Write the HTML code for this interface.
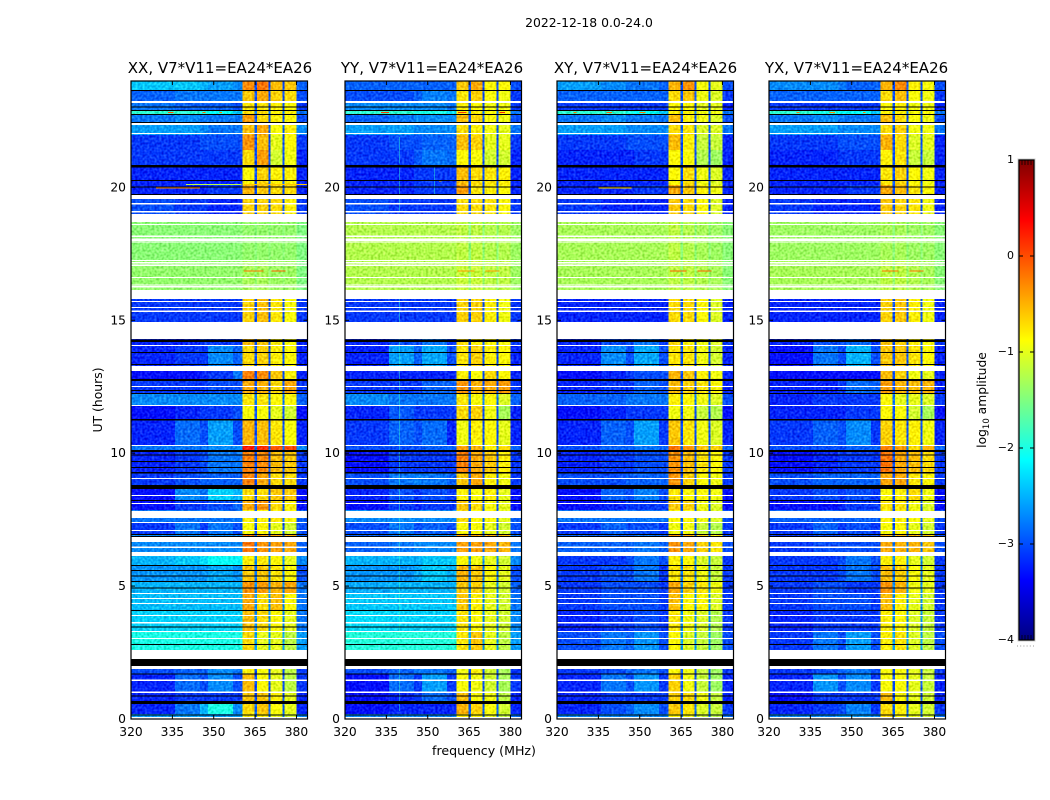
<!DOCTYPE html>
<html lang="en">
<head>
<meta charset="utf-8">
<title>2022-12-18 amplitude spectrograms</title>
<style>
html,body{margin:0;padding:0;background:#fff;width:1050px;height:800px;overflow:hidden}
svg{display:block}
text{font-family:"DejaVu Sans","Liberation Sans",sans-serif;fill:#000}
</style>
</head>
<body>
<svg id="chart" xmlns="http://www.w3.org/2000/svg" width="1050" height="800" viewBox="0 0 1050 800">
  <defs>
    <filter id="grain" x="0" y="0" width="100%" height="100%" color-interpolation-filters="sRGB">
      <feTurbulence type="fractalNoise" baseFrequency="0.42" numOctaves="1" seed="4" result="n"/>
      <feColorMatrix in="n" type="matrix" values="1 0 0 0 0 1 0 0 0 0 1 0 0 0 0 0 0 0 0 1" result="g"/>
      <feComposite in="SourceGraphic" in2="g" operator="arithmetic" k1="0" k2="1" k3="0.55" k4="-0.275"/>
    </filter>
    <linearGradient id="jet-gradient" x1="0" y1="1" x2="0" y2="0"></linearGradient>
  </defs>
  <text x="589" y="27" font-size="12.4" text-anchor="middle">2022-12-18 0.0-24.0</text>
  <text x="484" y="755" font-size="12.6" text-anchor="middle">frequency (MHz)</text>
  <text x="0" y="0" font-size="12.4" text-anchor="middle" transform="translate(102 400) rotate(-90)">UT (hours)</text>
  <text x="0" y="0" font-size="12.3" text-anchor="middle" transform="translate(986 400) rotate(-90)">log<tspan font-size="8.5" dy="3">10</tspan><tspan dy="-3"> amplitude</tspan></text>
</svg>
<script>
const panelTitles = ["XX, V7*V11=EA24*EA26","YY, V7*V11=EA24*EA26","XY, V7*V11=EA24*EA26","YX, V7*V11=EA24*EA26"];
const panelNames = ["xx","yy","xy","yx"];
const xTicks = [320,335,350,365,380];
const yTicks = [0,5,10,15,20];
const cbarTicks = [-4,-3,-2,-1,0,1];
const freqEdges = [320,336,345,348,357,360.4,365,370,375,380,384];
const gapFreqs = [365.2,370.2,375.3];
const utEdges = [24,23.63,23.17,22.91,22.76,22.46,21.97,21.41,20.84,20.09,19.71,19.0,17.27,16.14,14.94,14.03,13.28,12.79,12.26,11.78,11.25,10.31,10.08,9.25,8.65,8.24,7.86,7.41,6.96,6.28,5.79,5.19,4.74,4.10,3.31,2.60,1.69,1.02,0.56,0.19,0];
const gapLevels = [-3,-3,-3,-2.8,-3,-2.9,-3,-3,-3,-3,-3,-1.45,-1.4,-3,-3,-3,-3,-3,-2.8,-3,-3,-2.8,-3,-3,-3,-3,-2.9,-3,-2.8,-2.7,-2.8,-2.7,-2.7,-2.7,-2.6,-3,-3,-3,-2.9,-2.8];

const xxGrid = [
[-2.4,-2.4,-2.5,-2.6,-2.7,-.3,-.2,-.55,-.6,-2.9],[-2.9,-2.8,-2.8,-2.8,-2.8,-.6,-.45,-.65,-.7,-3],[-2.8,-2.9,-2.9,-2.9,-3,-.75,-.75,-.8,-.85,-3.1],[-1.9,-1.9,-2,-2.1,-2.4,-.7,-.7,-.8,-.8,-2.8],[-2.8,-2.7,-2.8,-2.8,-2.8,-.4,-.7,-.8,-.85,-3],
[-2.6,-2.6,-2.7,-2.8,-2.8,-.55,-.45,-.9,-.8,-2.7],[-3.1,-3.1,-3,-3,-3,-.35,-.55,-1,-.85,-3.1],[-3.1,-3.1,-3.1,-3.1,-3.1,-.7,-.4,-1.1,-.95,-3.2],[-3.2,-3.2,-3.2,-3.2,-3.2,-.85,-.65,-.8,-.8,-3.2],[-3.2,-3.2,-3.2,-3.1,-3.1,-.5,-.6,-.7,-.7,-3.2],
[-3,-3.1,-3.1,-3.2,-3.2,-.65,-.65,-.7,-.8,-3.1],[-1.45,-1.45,-1.45,-1.45,-1.45,-1.4,-1.4,-1.4,-1.4,-1.5],[-1.4,-1.4,-1.4,-1.4,-1.4,-1.3,-1.3,-1.35,-1.35,-1.5],[-3.1,-3.1,-3.1,-3.1,-3.1,-.65,-.55,-.75,-.9,-3.1],[-3.2,-3.2,-3.1,-3.1,-3.1,-.55,-.6,-.8,-.9,-3.2],
[-3.2,-3.1,-3.1,-2.7,-2.9,-.7,-.65,-.8,-.85,-3.2],[-3.3,-3.3,-3.2,-3.1,-2.8,-.25,-.3,-.6,-.8,-3.2],[-3.1,-3.1,-3.1,-3,-3,-.45,-.5,-.7,-.45,-3.1],[-2.7,-2.7,-2.7,-2.7,-2.7,-.75,-.75,-.85,-.85,-2.9],[-3.3,-3.2,-3.1,-3.1,-3,-.9,-.9,-1,-1.1,-3.3],
[-3.2,-2.85,-3,-2.6,-3,-.5,-.55,-.75,-.9,-3.2],[-2.8,-2.8,-2.8,-2.7,-2.7,.25,.15,-.05,0,-2.7],[-3.2,-3.1,-3,-2.8,-2.8,-.25,-.3,-.55,-.6,-3.1],[-3.1,-3,-2.9,-2.9,-2.9,-.25,-.45,-.7,-.7,-3.1],[-3.3,-2.7,-2.8,-2.35,-2.5,-.7,-.7,-.6,-.6,-3.3],
[-3.3,-3.1,-3.1,-3,-2.9,-.45,-.35,-.7,-.8,-3.3],[-2.8,-2.8,-2.8,-2.8,-2.8,-.8,-.8,-.75,-.85,-2.9],[-3.1,-2.8,-3.1,-2.8,-3,-.9,-.85,-1,-1.1,-3],[-2.7,-2.7,-2.7,-2.7,-2.7,-.2,-.35,-.4,-.45,-2.9],[-2.5,-2.4,-2.3,-2.1,-2.15,-.8,-.75,-.85,-1,-2.7],
[-2.65,-2.65,-2.65,-2.55,-2.65,-.6,-.6,-.75,-.85,-3],[-2.5,-2.5,-2.5,-2.5,-2.5,-.35,-.4,-.5,-.45,-2.8],[-2.45,-2.45,-2.45,-2.45,-2.45,-.45,-.7,-.55,-.85,-2.8],[-2.35,-2.35,-2.35,-2.35,-2.35,-.55,-.7,-.85,-1,-2.8],[-2,-2,-2,-2,-2,-.7,-1,-1,-1.2,-2.6],
[-3,-2.9,-2.9,-2.7,-2.8,-.8,-.9,-1,-1.2,-3.1],[-3.2,-2.85,-3,-2.7,-3,-.55,-.85,-1,-1.2,-3.1],[-3.2,-3.1,-3.1,-3.1,-3.1,-.6,-.6,-.8,-1,-3.2],[-3.2,-2.8,-2.5,-2,-2.7,-.7,-.6,-.9,-1,-3.2],[-2.6,-2.6,-2.6,-2.6,-2.6,-.8,-.8,-1,-1.1,-2.7]];

const yyGrid = [
[-2.9,-2.9,-2.9,-2.9,-2.9,-.6,-.45,-.85,-.85,-3],[-3,-3,-2.9,-2.75,-2.8,-.75,-.65,-.9,-.95,-3.1],[-2.7,-2.7,-2.7,-2.7,-2.8,-.8,-.85,-.95,-.95,-3.1],[-1.9,-1.9,-2,-2,-2.3,-.8,-.8,-.9,-.85,-2.8],[-2.9,-2.8,-2.7,-2.7,-2.7,-.55,-.7,-.9,-.95,-3],
[-2.6,-2.6,-2.7,-2.7,-2.7,-.7,-.8,-.95,-1,-2.8],[-3.1,-3,-3,-2.9,-2.9,-.55,-.65,-1,-1,-3.1],[-3.1,-3.1,-2.95,-2.8,-2.85,-.85,-.9,-1.1,-1.1,-3.2],[-3.2,-3.2,-3.1,-3.1,-3.1,-.55,-.7,-.75,-.8,-3.2],[-3.2,-3.2,-3.1,-3.1,-3.1,-.4,-.75,-.8,-.85,-3.2],
[-3,-3.1,-3.1,-3.1,-3.1,-.7,-.7,-.75,-.85,-3.1],[-1.25,-1.25,-1.25,-1.25,-1.25,-1.2,-1.2,-1.25,-1.25,-1.35],[-1.25,-1.25,-1.25,-1.25,-1.25,-1.15,-1.15,-1.2,-1.2,-1.35],[-3.1,-3.1,-3.1,-3.1,-3.1,-.65,-.65,-.8,-.95,-3.1],[-3.2,-3,-3,-2.8,-3.1,-.7,-.8,-.85,-.9,-3.1],
[-3.2,-2.6,-2.9,-2.55,-3,-.75,-.65,-.8,-.85,-3.2],[-3.2,-3.2,-3.2,-3.2,-3.2,-.8,-.9,-.7,-.85,-3.2],[-3.1,-3.1,-3.1,-2.9,-2.9,-.35,-.5,-.45,-.4,-3.1],[-2.7,-2.8,-2.8,-2.8,-2.8,-.75,-.9,-.85,-1.05,-2.9],[-3.2,-2.95,-3.1,-3.1,-3.1,-.7,-.65,-.95,-1.3,-3.2],
[-3.1,-2.9,-3,-2.85,-3.2,-.95,-.8,-.85,-1,-3.2],[-3,-3,-3,-2.9,-2.9,-.4,-.5,-.8,-.7,-2.9],[-3.3,-3.1,-3.1,-3.1,-3.1,-.25,-.45,-.6,-.8,-3.1],[-3,-2.8,-2.75,-2.8,-2.9,-.6,-.45,-.8,-.95,-3.1],[-3.2,-3,-3.1,-3,-3.1,-.8,-.9,-.8,-1,-3.3],
[-3.3,-3.1,-3.2,-3.1,-3.1,-.6,-.7,-.9,-1,-3.3],[-2.7,-2.7,-2.7,-2.7,-2.7,-.7,-.85,-.85,-1,-2.9],[-3,-2.8,-3,-2.9,-3,-.9,-.9,-1,-1.1,-3],[-2.9,-2.8,-2.7,-2.7,-2.7,-.4,-.4,-.45,-.5,-2.8],[-2.5,-2.5,-2.5,-2.4,-2.4,-.85,-.95,-1,-1.1,-2.7],
[-2.65,-2.65,-2.55,-2.4,-2.5,-.5,-.6,-.85,-1,-3],[-2.55,-2.5,-2.5,-2.5,-2.5,-.6,-.65,-1,-1.1,-2.9],[-2.4,-2.4,-2.4,-2.4,-2.4,-.6,-.8,-1,-1.1,-2.8],[-2.3,-2.35,-2.35,-2.35,-2.35,-.75,-.85,-1,-1.1,-2.7],[-1.95,-1.95,-1.95,-1.95,-1.95,-.75,-.6,-1,-1.2,-2.6],
[-3,-2.9,-2.8,-2.8,-2.9,-.95,-.8,-1.1,-1.3,-3.1],[-3.3,-2.85,-3.1,-2.6,-3.1,-.9,-.95,-1.1,-1.3,-3.1],[-3.3,-3.2,-3.1,-2.85,-3,-.55,-.9,-.95,-1.2,-3.2],[-3.3,-3.2,-3.2,-3.2,-3.2,-.5,-.65,-.9,-1.1,-3.2],[-2.7,-2.7,-2.7,-2.7,-2.7,-.8,-.85,-1,-1.2,-2.8]];

const xyGrid = [
[-2.6,-2.7,-2.8,-2.8,-2.9,-.5,-.35,-.9,-1,-3],[-2.9,-2.9,-2.9,-2.9,-2.9,-.7,-.6,-.95,-1.05,-3.1],[-3.1,-3.1,-3.1,-3.1,-3.1,-.85,-.85,-1,-1,-3.2],[-1.9,-1.9,-2,-2.1,-2.4,-.8,-.85,-.95,-.95,-2.8],[-2.8,-2.7,-2.8,-2.8,-2.8,-.55,-.8,-.95,-1.05,-3],
[-2.6,-2.6,-2.7,-2.7,-2.7,-.7,-.75,-1.05,-1.05,-2.8],[-3.1,-3.1,-3,-3,-3,-.55,-.8,-1.15,-1.15,-3.2],[-3.2,-3.2,-3.2,-3.1,-3.1,-.85,-.9,-1.25,-1.35,-3.2],[-3.2,-3.2,-3.2,-3.2,-3.2,-.85,-.7,-.95,-1.05,-3.2],[-3.2,-3.2,-3.2,-3.1,-3.1,-.45,-.6,-.8,-.95,-3.2],
[-3.1,-3.2,-3.2,-3.2,-3.2,-.6,-.7,-.85,-1.05,-3.2],[-1.3,-1.3,-1.3,-1.3,-1.3,-1.2,-1.25,-1.3,-1.35,-1.45],[-1.3,-1.3,-1.3,-1.3,-1.3,-1.2,-1.2,-1.25,-1.3,-1.45],[-3.2,-3.2,-3.2,-3.2,-3.2,-.7,-.7,-.85,-1.05,-3.2],[-3.2,-3,-3,-2.8,-3.1,-.7,-.8,-.95,-1.05,-3.1],
[-3.2,-2.7,-3,-2.55,-3,-.75,-.75,-.95,-1.1,-3.2],[-3.3,-3.2,-3.1,-3,-3,-.5,-.6,-.8,-.95,-3.2],[-3.2,-3.1,-3.1,-2.9,-3,-.55,-.65,-.75,-.85,-3.2],[-2.9,-2.9,-2.8,-2.8,-2.8,-.8,-.85,-.95,-1.05,-3],[-3.3,-3.2,-3.1,-3.1,-3.1,-.95,-.95,-1.15,-1.25,-3.3],
[-3.2,-2.9,-3,-2.6,-3.1,-.6,-.75,-.95,-1.05,-3.2],[-3,-2.9,-2.9,-2.8,-2.9,-.2,-.35,-.55,-.65,-2.9],[-3.2,-3.1,-3.1,-3,-3,-.35,-.55,-.75,-.85,-3.1],[-3,-3,-2.9,-2.9,-2.9,-.35,-.65,-.85,-.95,-3.1],[-3.3,-2.9,-3,-2.75,-3,-.75,-.85,-.85,-.95,-3.3],
[-3.3,-3.2,-3.1,-3.1,-3.1,-.6,-.65,-.95,-1.05,-3.3],[-2.8,-2.8,-2.8,-2.8,-2.8,-.85,-.85,-.95,-1.05,-3],[-3.1,-2.9,-3,-3,-3.1,-.95,-.95,-1.15,-1.25,-3.1],[-2.9,-2.9,-2.9,-2.8,-2.9,-.35,-.45,-.65,-.75,-3],[-3.1,-3.1,-3,-2.8,-3,-.8,-.85,-1.05,-1.15,-3.1],
[-3.1,-3,-3,-2.8,-3.1,-.75,-.75,-.95,-1.15,-3.1],[-3.1,-3,-3,-3,-3.1,-.45,-.65,-.75,-.95,-3.1],[-3.1,-3,-3,-3,-3.1,-.55,-.85,-.85,-1.05,-3.1],[-3.2,-3.1,-3.1,-3,-3.1,-.75,-.95,-1.05,-1.25,-3.1],[-3,-2.8,-2.9,-2.65,-3,-.85,-1.05,-1.15,-1.35,-3],
[-3.1,-3,-2.9,-2.8,-3,-.85,-.95,-1.15,-1.35,-3.1],[-3.2,-2.8,-3,-2.65,-3.1,-.65,-.95,-1.15,-1.35,-3.2],[-3.2,-3.1,-3.1,-3.1,-3.1,-.65,-.7,-.95,-1.15,-3.2],[-3.2,-3,-2.9,-2.7,-3,-.6,-.75,-1.05,-1.15,-3.1],[-2.7,-2.7,-2.7,-2.7,-2.7,-.85,-.95,-1.15,-1.25,-2.8]];

const yxGrid = [
[-2.7,-2.7,-2.8,-2.9,-2.9,-.5,-.3,-.8,-.9,-3],[-2.9,-2.9,-2.9,-2.9,-2.9,-.7,-.55,-.9,-.95,-3.1],[-3.1,-3.1,-3.1,-3.1,-3.1,-.85,-.8,-.95,-.95,-3.2],[-1.9,-2,-2.1,-2.1,-2.4,-.8,-.8,-.9,-.9,-2.8],[-2.8,-2.7,-2.8,-2.8,-2.8,-.55,-.7,-.9,-.95,-3],
[-2.6,-2.6,-2.7,-2.7,-2.7,-.7,-.65,-.95,-.95,-2.8],[-3.1,-3.1,-3,-3,-3,-.5,-.7,-1.05,-1,-3.2],[-3.2,-3.2,-3.1,-3.1,-3.1,-.8,-.75,-1.15,-1.15,-3.2],[-3.2,-3.2,-3.2,-3.2,-3.2,-.75,-.65,-.85,-.95,-3.2],[-3.2,-3.2,-3.2,-3.1,-3.1,-.45,-.55,-.75,-.85,-3.2],
[-3.1,-3.2,-3.2,-3.2,-3.2,-.6,-.65,-.75,-.95,-3.2],[-1.35,-1.35,-1.35,-1.35,-1.35,-1.3,-1.3,-1.35,-1.35,-1.45],[-1.3,-1.3,-1.3,-1.3,-1.3,-1.2,-1.2,-1.25,-1.3,-1.45],[-3.2,-3.2,-3.2,-3.2,-3.2,-.65,-.6,-.8,-.95,-3.2],[-3.2,-3,-3,-2.85,-3.1,-.6,-.65,-.8,-.85,-3.1],
[-3.3,-2.8,-3,-2.5,-3,-.6,-.6,-.75,-.85,-3.2],[-3.3,-3.3,-3.3,-3.3,-3.3,-.55,-.65,-.95,-1,-3.2],[-3.2,-3.2,-3.1,-2.85,-2.9,-.4,-.5,-.55,-.5,-3.2],[-3.2,-3.1,-3.1,-3.1,-3.1,-.85,-1,-1,-1.05,-3.1],[-3.2,-3.2,-3.2,-3.1,-3.1,-.85,-.9,-1.1,-1.3,-3.3],
[-3.1,-2.9,-3,-2.7,-3.1,-.65,-.75,-.8,-.95,-3.2],[-3,-3,-3,-2.9,-2.9,-.25,-.4,-.7,-.5,-2.9],[-3.3,-3.2,-3.1,-3.1,-3.1,-.2,-.45,-.55,-.7,-3.1],[-3,-2.9,-2.9,-2.9,-2.9,-.45,-.45,-.75,-.85,-3.1],[-3.1,-3,-3.1,-3,-3.1,-.85,-.8,-.7,-.95,-3.3],
[-3.3,-3.3,-3.2,-3.1,-3.1,-.75,-.75,-.95,-1.05,-3.3],[-2.9,-2.9,-2.9,-2.9,-2.9,-.8,-.8,-.9,-1,-3],[-3.1,-2.9,-3.1,-3,-3.1,-.9,-.85,-1,-1.1,-3.1],[-3.1,-3,-3,-3,-3,-.45,-.5,-.5,-.6,-3],[-3.1,-3.1,-3,-2.8,-3,-.8,-.8,-1,-1.1,-3.1],
[-3.1,-3.1,-3,-2.8,-3,-.55,-.65,-.9,-1,-3.1],[-3.1,-3,-3,-3.1,-3.1,-.35,-.5,-.95,-1,-3.1],[-3.1,-3,-3,-3,-3.1,-.55,-.8,-1,-1.1,-3.1],[-3.2,-3.1,-3.1,-3.1,-3.1,-.8,-.85,-1.05,-1.15,-3.1],[-3.1,-2.8,-3,-2.6,-3,-.8,-.75,-1.05,-1.2,-3],
[-3.1,-3,-2.9,-2.8,-3,-.9,-.9,-1,-1.15,-3.1],[-3.2,-2.65,-3,-2.7,-3.1,-.9,-.9,-1,-1.15,-3.2],[-3.3,-3.1,-3.1,-3.1,-3.1,-.55,-.85,-1,-1.1,-3.2],[-3.2,-3.1,-3,-2.75,-3.1,-.7,-.8,-1,-1.1,-3.1],[-2.7,-2.7,-2.6,-2.6,-2.7,-.7,-.85,-1,-1.1,-2.8]];

const grids = [xxGrid, yyGrid, xyGrid, yxGrid];

// flagged-out time ranges, [upper UT, lower UT]
const whiteFlags = [[23.25,23.17],[22.44,22.35],[22.05,22.01],[19.71,19.56],[19.41,19.36],[19.11,19.05],[19.0,18.70],[18.63,18.58],[18.18,18.14],[18.08,18.06],[18.05,17.99],[17.97,17.93],[17.27,17.22],[17.19,17.17],[17.14,17.09],[17.08,17.04],[16.62,16.58],[16.34,16.30],[16.28,16.24],[16.14,15.80],[15.73,15.69],[15.50,15.46],[15.37,15.31],[14.94,14.30],[14.07,14.03],[13.28,13.09],[12.53,12.49],[11.81,11.78],[10.31,10.27],[9.07,9.03],[8.43,8.39],[8.13,8.09],[7.82,7.56],[7.41,7.37],[7.11,7.07],[6.85,6.66],[6.49,6.43],[6.28,6.13],[4.74,4.70],[4.55,4.51],[4.36,4.33],[3.91,3.87],[3.65,3.59],[3.31,3.27],[3.05,3.01],[2.60,2.26],[1.99,1.88],[1.49,1.43],[1.03,0.98],[0.08,0.02]];
const blackFlags = [[23.66,23.63],[23.04,23.01],[22.91,22.88],[22.76,22.72],[22.46,22.43],[20.84,20.75],[20.28,20.24],[20.03,20.0],[19.75,19.71],[14.28,14.18],[13.81,13.77],[13.36,13.32],[12.79,12.72],[12.38,12.34],[12.26,12.23],[11.29,11.23],[10.12,10.04],[9.95,9.93],[9.71,9.67],[9.48,9.44],[9.29,9.24],[8.80,8.65],[8.24,8.20],[6.96,6.92],[6.88,6.86],[5.79,5.77],[5.61,5.58],[5.40,5.38],[5.19,5.17],[4.95,4.92],[4.10,4.07],[3.48,3.45],[2.82,2.80],[2.26,1.99],[1.71,1.69],[0.88,0.87],[0.68,0.56],[0.17,0.14]];

// narrow bright interference lines: panel, UT, start MHz, end MHz, log amplitude
const streakPanels = [0,0,0,0,0,0,1,1,1,1,2,2,2,2,3,3,3,0,0,1,1,2,2,3,3];
const streakUT = [22.83,22.83,22.83,20.13,20.13,20.0,22.83,22.83,22.83,20.25,22.83,22.83,22.83,20.0,22.83,22.83,22.83,16.87,16.87,16.87,16.87,16.87,16.87,16.87,16.87];
const streakStart = [333.5,346,352,340,361,329,333,361,376,354,326,338,350,335,330,342,354,361,371,361,371,361,371,361,371];
const streakEnd = [335.5,347,353,360,384,345,336,364,378,355,327,340,352,347,331,344,355,368,376,367,376,367,376,367,376];
const streakValues = [0,-.1,-.2,-1.2,-.6,-.3,.1,.1,.2,-.6,-.2,-.1,-.2,-.7,-.2,-.3,-.2,-.2,-.1,-.4,-.4,-.1,-.1,-.2,-.2];

// faint vertical interference lines: panel, frequency, upper UT, lower UT
const vlinePanels = [1,1,1,1];
const vlineFreqs = [339.5,339.5,339.5,352.2];
const vlineTop = [21.9,20.8,15.8,20.8];
const vlineBottom = [20.9,19.1,0.3,19.7];

const panelLefts = [131,345,557,769];
const titleCenters = [220,432,645.5,856.5];
const panelWidth = 176.5;
const plotTop = 81, plotBottom = 719;
const NS = "http://www.w3.org/2000/svg";
const svg = document.getElementById("chart");

function clamp(v){ return Math.max(0, Math.min(1, v)); }
function jet(v){
  const t = clamp((v + 4) / 5);
  const r = clamp(1.5 - Math.abs(4*t - 3));
  const g = clamp(1.5 - Math.abs(4*t - 2));
  const b = clamp(1.5 - Math.abs(4*t - 1));
  return "rgb(" + Math.round(r*255) + "," + Math.round(g*255) + "," + Math.round(b*255) + ")";
}
function xScale(p, f){ return panelLefts[p] + (f - 320) / 64 * panelWidth; }
function yScale(u){ return plotBottom - u / 24 * (plotBottom - plotTop); }
function make(tag, parent, attrs){
  const el = document.createElementNS(NS, tag);
  for (const k in attrs) el.setAttribute(k, attrs[k]);
  parent.appendChild(el);
  return el;
}

grids.forEach(function(grid, p){
  const left = panelLefts[p];
  const right = left + panelWidth;
  const panel = make("g", svg, {});
  
  

  const heat = make("g", panel, {"shape-rendering":"crispEdges", filter:"url(#grain)"});
  
  
  grid.forEach(function(row, r){
    const y1 = yScale(utEdges[r]), y2 = yScale(utEdges[r+1]);
    row.forEach(function(val, c){
      const x1 = xScale(p, freqEdges[c]), x2 = xScale(p, freqEdges[c+1]);
      const cell = make("rect", heat, {x:x1, y:y1, width:x2-x1, height:y2-y1, fill:jet(val)});
      
      
    });
    gapFreqs.forEach(function(f){
      const gap = make("rect", heat, {x:xScale(p,f-0.4), y:y1, width:xScale(p,f+0.4)-xScale(p,f-0.4), height:y2-y1, fill:jet(gapLevels[r])});
      
      
    });
  });

  const overlay = make("g", panel, {"shape-rendering":"crispEdges"});
  
  
  vlinePanels.forEach(function(vp, i){
    if (vp !== p) return;
    const v = make("rect", overlay, {x:xScale(p,vlineFreqs[i]), y:yScale(vlineTop[i]), width:1, height:yScale(vlineBottom[i])-yScale(vlineTop[i]), fill:jet(-1.9), "fill-opacity":0.45});
    
    
  });
  streakPanels.forEach(function(sp, i){
    if (sp !== p) return;
    const s = make("rect", overlay, {x:xScale(p,streakStart[i]), y:yScale(streakUT[i]), width:xScale(p,streakEnd[i])-xScale(p,streakStart[i]), height:1, fill:jet(streakValues[i])});
    
    
  });
  whiteFlags.forEach(function(b){
    const y1 = yScale(b[0]), y2 = yScale(b[1]);
    const f = make("rect", overlay, {x:left, y:y1, width:panelWidth, height:Math.max(1,y2-y1), fill:"#fff"});
    
    
  });
  blackFlags.forEach(function(b){
    const y1 = yScale(b[0]), y2 = yScale(b[1]);
    const f = make("rect", overlay, {x:left, y:y1, width:panelWidth, height:Math.max(1,y2-y1), fill:"#000"});
    
    
  });

  const frame = make("rect", panel, {x:left, y:plotTop, width:panelWidth, height:plotBottom-plotTop, fill:"none", stroke:"#000", "stroke-width":1.2});
  
  

  xTicks.forEach(function(t){
    const x = xScale(p, t);
    const a = make("line", panel, {x1:x, x2:x, y1:plotBottom, y2:plotBottom-4, stroke:"#000"});
    
    
    const b = make("line", panel, {x1:x, x2:x, y1:plotTop, y2:plotTop+4, stroke:"#000"});
    
    
    const l = make("text", panel, {x:x, y:plotBottom+17, "font-size":12.3, "text-anchor":"middle"});
    l.textContent = t;
    
    
  });
  yTicks.forEach(function(t){
    const y = yScale(t);
    const a = make("line", panel, {x1:left, x2:left+4, y1:y, y2:y, stroke:"#000"});
    
    
    const b = make("line", panel, {x1:right, x2:right-4, y1:y, y2:y, stroke:"#000"});
    
    
    const l = make("text", panel, {x:left-5, y:y+4, "font-size":12.3, "text-anchor":"end"});
    l.textContent = t;
    
    
  });
  const title = make("text", panel, {x:titleCenters[p], y:73, "font-size":15, "text-anchor":"middle"});
  title.textContent = panelTitles[p];
  
  
});

/* colour bar */
const cbX = 1019, cbW = 15, cbTop = 160, cbBottom = 640;
function cbY(v){ return cbBottom - (v + 4) / 5 * (cbBottom - cbTop); }
const grad = document.getElementById("jet-gradient");
for (let i = 0; i <= 40; i++){
  const s = make("stop", grad, {offset:(i/40), "stop-color":jet(-4 + i/8)});
}
const cb = make("g", svg, {});


const halo = make("rect", cb, {x:cbX-1, y:cbTop-1, width:cbW+2, height:cbBottom-cbTop+2, fill:"none", stroke:"#ccc", "stroke-width":1});


const ramp = make("rect", cb, {x:cbX, y:cbTop, width:cbW, height:cbBottom-cbTop, fill:"url(#jet-gradient)", stroke:"#000", "stroke-width":1.2});


cbarTicks.forEach(function(v){
  const y = cbY(v);
  const a = make("line", cb, {x1:cbX, x2:cbX+4, y1:y, y2:y, stroke:"#000"});
  
  
  const b = make("line", cb, {x1:cbX+cbW, x2:cbX+cbW-4, y1:y, y2:y, stroke:"#000"});
  
  
  const l = make("text", cb, {x:cbX-5, y:y+3, "font-size":11, "text-anchor":"end"});
  l.textContent = String(v).replace("-", "\u2212");
  
  
});
for (let i = 1; i < 5; i++){
  const x = cbX + i*3;
  const a = make("line", cb, {x1:x, x2:x, y1:cbTop, y2:cbTop+5, stroke:"#000", "stroke-opacity":0.75});
  
  
  const b = make("line", cb, {x1:x, x2:x, y1:cbBottom, y2:cbBottom-5, stroke:"#000", "stroke-opacity":0.75});
  
  
}
const dots = make("line", cb, {x1:cbX-2, x2:cbX+cbW, y1:646, y2:646, stroke:"#999", "stroke-width":1, "stroke-dasharray":"1 2.2"});


</script>
</body>
</html>
